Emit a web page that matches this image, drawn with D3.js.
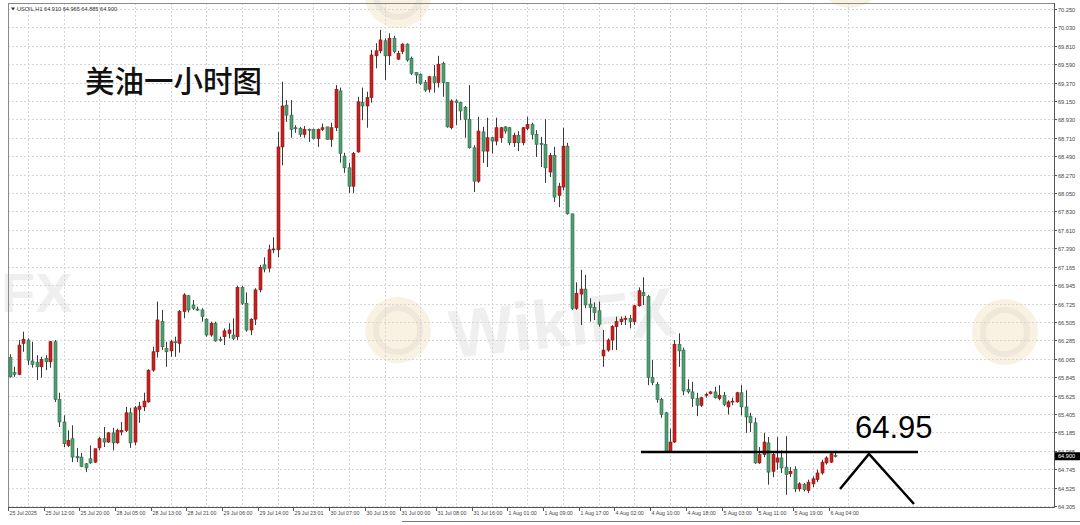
<!DOCTYPE html>
<html><head><meta charset="utf-8">
<script src="https://cdn.jsdelivr.net/npm/d3@7"></script>
<style>html,body{margin:0;padding:0;background:#fff;}svg{display:block;}</style>
</head><body>
<svg id="c" width="1080" height="525"></svg>
<script>
const opens = [66.08,65.90,65.88,66.25,66.29,66.04,66.02,65.97,66.07,66.03,66.27,65.58,65.31,65.03,65.11,64.90,64.89,64.81,64.87,64.83,65.00,65.11,65.07,65.18,65.06,65.19,65.21,65.42,65.07,65.46,65.49,65.55,65.93,66.15,66.51,66.19,66.16,66.27,66.25,66.63,66.82,66.71,66.66,66.65,66.54,66.35,66.49,66.30,66.33,66.37,66.35,66.33,66.92,66.73,66.41,66.54,66.89,67.19,67.15,67.37,67.37,68.60,69.10,68.98,68.83,68.82,68.75,68.81,68.81,68.70,68.81,68.84,68.69,68.83,69.27,68.49,68.35,68.13,68.54,69.13,69.09,69.19,69.69,69.75,69.87,69.69,69.90,69.65,69.74,69.83,69.66,69.49,69.47,69.37,69.29,69.44,69.37,69.60,69.37,68.83,69.15,69.13,69.07,68.93,68.59,68.19,68.78,68.55,68.71,68.67,68.71,68.84,68.83,68.65,68.74,68.65,68.82,68.87,68.75,68.64,68.63,68.30,68.50,68.02,68.12,68.61,67.80,66.67,66.84,66.90,66.72,66.68,66.64,66.10,66.17,66.29,66.45,66.51,66.54,66.55,66.51,66.70,66.86,66.81,65.84,65.76,65.58,65.42,64.96,65.07,66.24,66.17,65.70,65.67,65.59,65.51,65.63,65.65,65.67,65.59,65.63,65.49,65.55,65.55,65.66,65.49,65.38,65.30,64.82,64.92,65.06,64.72,64.83,64.88,64.77,64.69,64.74,64.51,64.56,64.49,64.57,64.62,64.70,64.82,64.83,64.91];
const highs = [66.12,65.97,66.29,66.39,66.31,66.27,66.11,66.09,66.11,66.28,66.29,65.66,65.39,65.21,65.27,65.00,64.94,64.82,65.03,64.99,65.13,65.25,65.19,65.24,65.23,65.31,65.49,65.48,65.50,65.55,65.66,65.94,66.21,66.75,66.65,66.27,66.29,66.33,66.65,66.85,66.83,66.77,66.69,66.67,66.55,66.51,66.51,66.33,66.43,66.49,66.55,66.94,66.94,66.86,66.55,66.91,67.19,67.28,67.43,67.52,68.78,69.38,69.16,69.16,68.86,68.84,68.85,68.82,68.82,68.82,68.88,68.84,68.89,69.34,69.31,68.53,68.41,68.54,69.20,69.31,69.26,69.76,69.84,70.00,69.90,69.96,69.93,69.75,69.84,69.84,69.68,69.49,69.48,69.40,69.45,69.58,69.69,69.62,69.37,69.17,69.17,69.14,69.09,69.34,68.62,68.96,68.84,68.95,68.72,68.95,68.84,68.85,68.84,68.77,68.79,68.84,68.96,68.89,68.80,68.72,68.93,68.53,68.60,68.17,68.83,68.65,67.80,66.98,67.13,67.07,66.79,66.74,66.75,66.41,66.31,66.47,66.57,66.57,66.58,66.59,66.71,66.92,67.04,66.83,66.05,65.79,65.60,65.43,65.23,66.29,66.37,66.20,65.82,65.79,65.66,65.61,65.66,65.68,65.73,65.75,65.67,65.57,65.60,65.67,65.75,65.69,65.42,65.36,65.01,65.18,65.13,64.94,65.13,64.97,65.14,64.77,64.78,64.59,64.58,64.62,64.66,64.74,64.86,64.90,64.94,64.965];
const lows = [65.84,65.85,65.87,66.15,65.99,65.96,65.81,65.84,65.93,65.96,65.55,65.25,65.01,65.01,64.83,64.83,64.77,64.71,64.81,64.82,64.97,65.01,65.06,64.97,65.05,65.15,65.19,65.00,65.03,65.30,65.44,65.54,65.91,66.08,66.17,65.97,66.09,66.09,66.14,66.55,66.62,66.65,66.64,66.51,66.33,66.33,66.27,66.27,66.23,66.31,66.29,66.29,66.71,66.39,66.35,66.47,66.86,67.10,67.10,67.33,67.28,68.38,68.90,68.71,68.77,68.72,68.71,68.66,68.69,68.60,68.79,68.69,68.60,68.79,68.41,68.29,68.05,68.05,68.53,68.92,68.83,69.13,69.54,69.72,69.40,69.58,69.72,69.64,69.71,69.62,69.46,69.36,69.34,69.26,69.25,69.25,69.31,69.20,68.83,68.81,68.86,68.92,68.71,68.58,68.06,68.17,68.41,68.36,68.52,68.62,68.65,68.76,68.62,68.60,68.55,68.62,68.80,68.69,68.48,68.36,68.17,68.24,67.94,67.88,68.08,67.79,66.65,66.65,66.47,66.67,66.51,66.53,66.45,65.97,66.15,66.17,66.17,66.47,66.47,66.43,66.47,66.69,66.71,65.75,65.75,65.54,65.36,64.94,64.94,65.06,65.97,65.63,65.65,65.49,65.38,65.49,65.60,65.64,65.59,65.57,65.50,65.40,65.51,65.54,65.39,65.18,65.19,64.81,64.81,64.89,64.56,64.65,64.74,64.70,64.44,64.65,64.47,64.48,64.48,64.46,64.53,64.59,64.68,64.80,64.82,64.885];
const closes = [65.85,65.88,66.23,66.30,66.05,66.00,65.97,66.06,66.03,66.27,65.58,65.31,65.05,65.09,64.89,64.88,64.78,64.76,64.82,64.99,65.11,65.07,65.18,65.06,65.21,65.21,65.42,65.06,65.48,65.50,65.56,65.93,66.15,66.53,66.21,66.15,66.27,66.26,66.63,66.83,66.65,66.67,66.65,66.57,66.35,66.49,66.28,66.29,66.40,66.41,66.31,66.92,66.73,66.41,66.54,66.89,67.16,67.14,67.37,67.38,68.60,69.09,68.98,68.81,68.82,68.75,68.81,68.80,68.70,68.81,68.83,68.69,68.83,69.29,68.52,68.35,68.13,68.52,69.14,69.09,69.19,69.70,69.75,69.88,69.69,69.90,69.74,69.72,69.83,69.64,69.48,69.46,69.36,69.28,69.44,69.37,69.59,69.37,68.84,69.15,69.13,69.03,68.93,68.59,68.19,68.79,68.55,68.71,68.67,68.83,68.83,68.79,68.65,68.74,68.65,68.83,68.87,68.75,68.63,68.63,68.35,68.50,68.00,68.13,68.61,67.80,66.67,66.85,66.90,66.71,66.68,66.62,66.48,66.17,66.29,66.45,66.51,66.54,66.55,66.51,66.70,66.88,66.82,65.84,65.78,65.58,65.40,64.96,65.07,66.24,66.16,65.68,65.67,65.59,65.51,65.60,65.64,65.67,65.60,65.63,65.52,65.55,65.56,65.66,65.49,65.37,65.30,64.82,64.92,65.07,64.71,64.92,64.88,64.76,64.68,64.72,64.51,64.57,64.50,64.59,64.63,64.70,64.83,64.88,64.93,64.90];

const priceTicks = [70.250,70.030,69.810,69.590,69.370,69.150,68.930,68.710,68.490,68.270,68.050,67.830,67.610,67.390,67.165,66.945,66.725,66.505,66.285,66.065,65.845,65.625,65.405,65.185,64.965,64.745,64.525,64.305];
const timeLabels = ["25 Jul 2025","25 Jul 12:00","25 Jul 20:00","28 Jul 05:00","28 Jul 13:00","28 Jul 21:00","29 Jul 06:00","29 Jul 14:00","29 Jul 23:01","30 Jul 07:00","30 Jul 15:00","31 Jul 00:00","31 Jul 08:00","31 Jul 16:00","1 Aug 01:00","1 Aug 09:00","1 Aug 17:00","4 Aug 02:00","4 Aug 10:00","4 Aug 18:00","5 Aug 03:00","5 Aug 11:00","5 Aug 19:00","6 Aug 04:00"];
const timeLabelIndex = [0,8,16,24,32,40,48,56,64,72,80,88,96,104,112,120,128,136,144,152,160,168,176,184];
const headerText = "USOIL,H1  64.910 64.965 64.885 64.900";
const lastPrice = 64.900;
const levelPrice = 64.95;
const titleText = "美油一小时图";

const svg = d3.select("#c");
const L = 8, T = 3, R = 1054, B = 507;
const x = d3.scaleLinear().domain([0, 185]).range([10, 835]);
const y = d3.scaleLinear().domain([64.305, 70.250]).range([506, 9]);

// watermarks
const wm = svg.append("g");
[[398,330],[1005,332],[398,-5],[850,-25]].forEach(([cx,cy])=>{
  wm.append("circle").attr("cx",cx).attr("cy",cy).attr("r",33).attr("fill","#f9f2e3");
  wm.append("circle").attr("cx",cx).attr("cy",cy).attr("r",22).attr("fill","none").attr("stroke","#efe8da").attr("stroke-width",6);
});
wm.append("text").attr("transform","translate(452,358) rotate(-6)").attr("font-family","Liberation Sans, Arial").attr("font-weight","bold")
  .attr("font-size",68).attr("fill","#000").attr("opacity",0.06).text("WikiFX");
wm.append("text").attr("x",1).attr("y",312).attr("font-family","Liberation Sans, Arial").attr("font-weight","bold")
  .attr("font-size",56).attr("fill","#000").attr("opacity",0.06).text("FX");

// grid
const grid = svg.append("g").attr("stroke","#d6d6d6").attr("stroke-width",1).attr("stroke-dasharray","2,2");
priceTicks.forEach(p=>{
  const yy = Math.round(y(p))+0.5;
  grid.append("line").attr("x1",L).attr("x2",R).attr("y1",yy).attr("y2",yy);
});
timeLabelIndex.forEach(i=>{
  const xx = Math.round(x(i)+17.9)+0.5;
  if (xx < R) grid.append("line").attr("x1",xx).attr("x2",xx).attr("y1",T).attr("y2",B);
});

// frame
svg.append("rect").attr("x",L+0.5).attr("y",T+0.5).attr("width",R-L).attr("height",B-T)
  .attr("fill","none").attr("stroke","#8a8a8a").attr("stroke-width",1);
svg.append("line").attr("x1",R+0.5).attr("x2",R+0.5).attr("y1",T).attr("y2",B).attr("stroke","#555");
svg.append("line").attr("x1",L).attr("x2",R).attr("y1",B+0.5).attr("y2",B+0.5).attr("stroke","#555");
svg.append("line").attr("x1",402).attr("x2",1080).attr("y1",521.5).attr("y2",521.5).attr("stroke","#777");

// candles
const data = opens.map((o,i)=>({i,o,h:highs[i],l:lows[i],c:closes[i]}));
const cg = svg.append("g");
data.forEach(d=>{
  const cx = Math.round(x(d.i))+0.5;
  const up = d.c >= d.o;
  cg.append("line").attr("x1",cx).attr("x2",cx).attr("y1",y(d.h)).attr("y2",y(d.l))
    .attr("stroke","#3a3a3a").attr("stroke-width",1);
  const y0 = y(Math.max(d.o,d.c)), y1 = y(Math.min(d.o,d.c));
  cg.append("rect").attr("x",cx-1.5).attr("y",y0).attr("width",3).attr("height",Math.max(1,y1-y0))
    .attr("fill", up ? "#c4221f" : "#4f9e72")
    .attr("stroke", up ? "#8e1412" : "#2f6b4b").attr("stroke-width",0.6);
});

// price axis
const ax = svg.append("g").attr("font-family","Liberation Sans, Arial").attr("font-size",5.6).attr("fill","#444");
priceTicks.forEach(p=>{
  const yy = Math.round(y(p))+0.5;
  ax.append("line").attr("x1",R).attr("x2",R+3).attr("y1",yy).attr("y2",yy).attr("stroke","#555");
  ax.append("text").attr("x",R+4).attr("y",yy+2).text(p.toFixed(3));
});
// last price box
const ly = y(lastPrice);
svg.append("rect").attr("x",R+1).attr("y",ly-4).attr("width",25).attr("height",8).attr("fill","#000");
svg.append("text").attr("x",R+4).attr("y",ly+2).attr("font-family","Liberation Sans, Arial").attr("font-size",5.6)
  .attr("fill","#fff").text(lastPrice.toFixed(3));

// time axis
const tx = svg.append("g").attr("font-family","Liberation Sans, Arial").attr("font-size",5.3).attr("fill","#444");
timeLabelIndex.forEach((i,k)=>{
  const xx = Math.round(x(i))-1.5;
  tx.append("line").attr("x1",xx).attr("x2",xx).attr("y1",B).attr("y2",B+4).attr("stroke","#555");
  tx.append("text").attr("x",xx+1).attr("y",B+8).text(timeLabels[k]);
});

// header
const hd = svg.append("g").attr("font-family","Liberation Sans, Arial").attr("font-size",5.6).attr("fill","#333");
hd.append("path").attr("d","M11,7.5 L15,7.5 L13,10.5 Z").attr("fill","#333");
hd.append("text").attr("x",17).attr("y",10.5).text(headerText);

// title
svg.append("text").attr("x",85).attr("y",92).attr("font-family","Noto Sans CJK SC").attr("font-weight",500)
  .attr("font-size",29.5).attr("fill","#111").text(titleText);

// annotation
svg.append("line").attr("x1",641).attr("x2",918).attr("y1",452).attr("y2",452).attr("stroke","#000").attr("stroke-width",2.5);
svg.append("polyline").attr("points","840,489 869,454 914,504").attr("fill","none").attr("stroke","#000").attr("stroke-width",2.5);
svg.append("text").attr("x",855).attr("y",438).attr("font-family","Liberation Sans, Arial").attr("font-size",31)
  .attr("fill","#000").text(levelPrice.toFixed(2));
</script>
</body></html>
